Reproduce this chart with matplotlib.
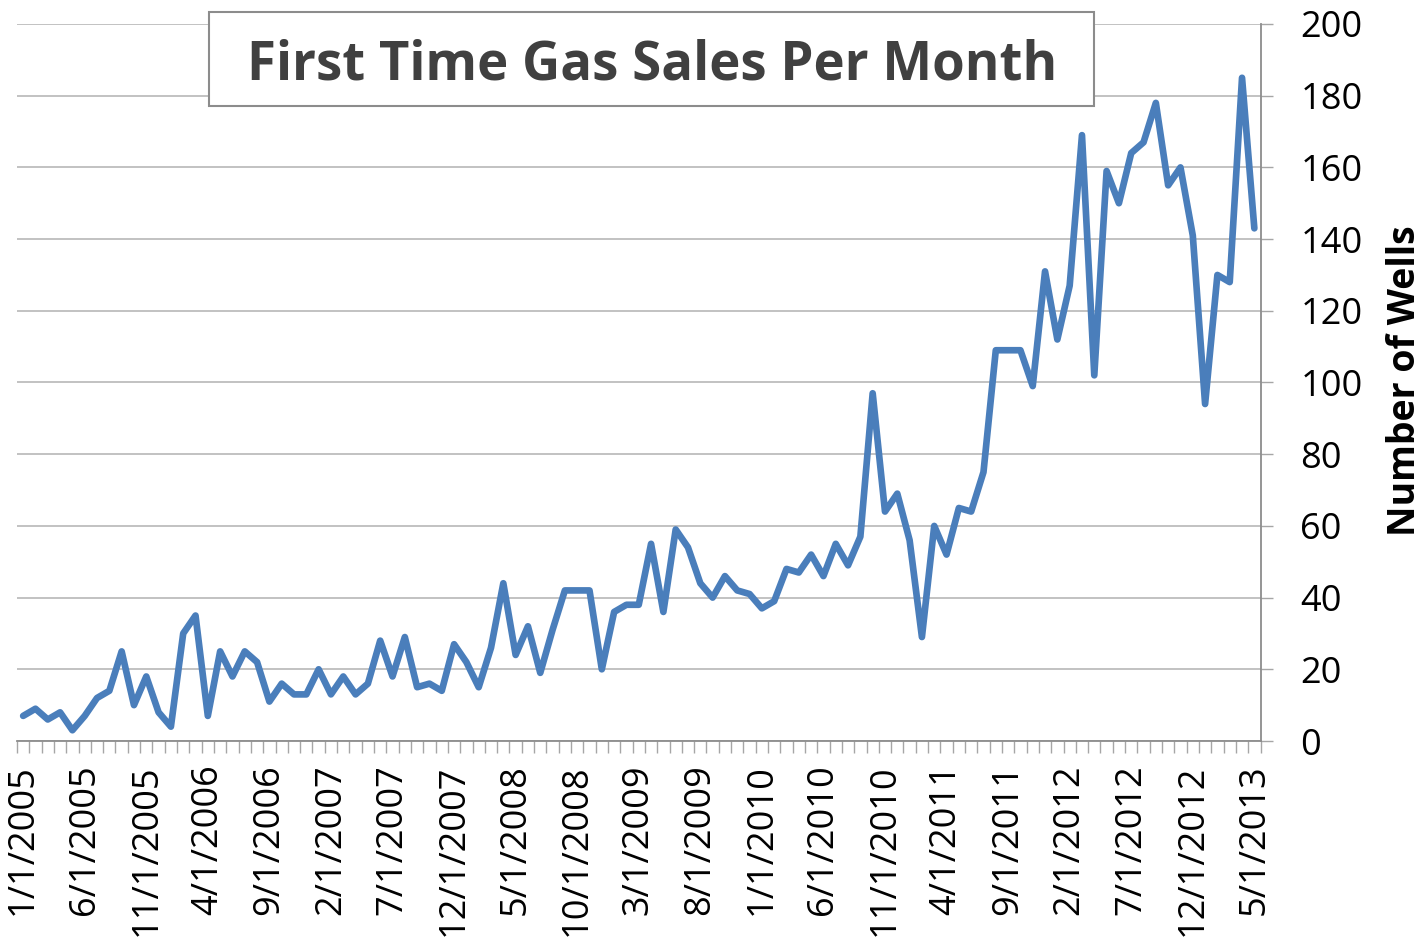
import matplotlib
matplotlib.use("Agg")
import matplotlib.pyplot as plt
from matplotlib.patches import Rectangle
import numpy as np
import pandas as pd

plt.rcParams['font.family'] = ['Open Sans', 'DejaVu Sans']

# Meses de 1/1/2005 a 5/1/2013
months = pd.date_range('2005-01-01', '2013-05-01', freq='MS')
month_labels = [f"{d.month}/{d.day}/{d.year}" for d in months]

# Poços com primeira venda de gás em cada mês
wells = [7, 9, 6, 8, 3, 7, 12, 14, 25, 10, 18, 8, 4, 30, 35, 7, 25, 18, 25, 22,
         11, 16, 13, 13, 20, 13, 18, 13, 16, 28, 18, 29, 15, 16, 14, 27, 22, 15,
         26, 44, 24, 32, 19, 31, 42, 42, 42, 20, 36, 38, 38, 55, 36, 59, 54, 44,
         40, 46, 42, 41, 37, 39, 48, 47, 52, 46, 55, 49, 57, 97, 64, 69, 56, 29,
         60, 52, 65, 64, 75, 109, 109, 109, 99, 131, 112, 127, 169, 102, 159, 150,
         164, 167, 178, 155, 160, 141, 94, 130, 128, 185, 143]

title = "First Time Gas Sales Per Month"
y_label = "Number of Wells"
y_ticks = list(range(0, 201, 20))

W, H = 1422, 938
fig = plt.figure(figsize=(W / 100, H / 100), dpi=100)
ax = fig.add_axes([17 / W, 1 - 741 / H, (1260.5 - 17) / W, (741 - 24) / H])

x = np.arange(len(wells))
ax.plot(x, wells, color='#4a7ebb', lw=4.8, solid_joinstyle='round', solid_capstyle='round', zorder=3)

ax.set_xlim(-0.5, len(wells) - 0.5)
ax.set_ylim(0, 200)

# eixo y a direita
ax.yaxis.tick_right()
ax.set_yticks(y_ticks)
ax.tick_params(axis='y', direction='out', length=8.6, width=1.0, color='#a6a6a6',
               labelsize=26, pad=20, labelcolor='black')
ax.grid(True, axis='y', color='#bdbdbd', lw=1.3, zorder=0)

# eixo x: rotulos a cada 5 meses, marcas em cada mes
ax.set_xticks(x[::5])
ax.set_xticklabels(month_labels[::5], rotation=90, fontsize=26)
ax.set_xticks(np.arange(-0.5, len(wells), 1), minor=True)
ax.tick_params(axis='x', which='major', length=0, pad=17)
ax.tick_params(axis='x', which='minor', direction='out', length=8.6, width=1.0, color='#a6a6a6')

for s in ['left', 'top']:
    ax.spines[s].set_visible(False)
for s in ['right', 'bottom']:
    ax.spines[s].set_color('#8c8c8c')
    ax.spines[s].set_linewidth(1.3)

# titulo numa caixa
box = Rectangle((209 / W, 1 - 106 / H), (1094 - 209) / W, (106 - 12) / H,
                transform=fig.transFigure, facecolor='white', edgecolor='#8c8c8c', lw=1.5, zorder=5)
fig.patches.append(box)
fig.text(652 / W, 1 - 80 / H, title, ha='center', va='baseline', fontsize=38,
         fontweight='bold', color='#404040', zorder=6)

fig.text(1405 / W, 1 - 381 / H, y_label, rotation=90, ha='center', va='center',
         fontsize=27, fontweight='bold', color='black')

fig.savefig('out.png', dpi=100)
